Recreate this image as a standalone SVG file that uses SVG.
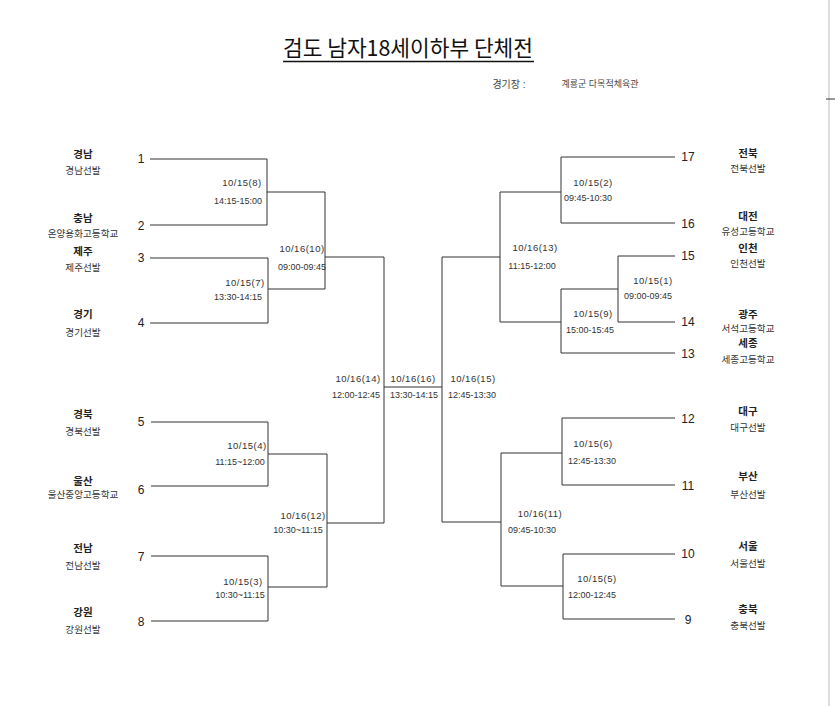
<svg xmlns="http://www.w3.org/2000/svg" width="835" height="706" viewBox="0 0 835 706">
<style>
text{font-family:"Liberation Sans","Noto Sans CJK KR",sans-serif;fill:#2a2a2a;dominant-baseline:central;text-anchor:middle}
.t{font-family:"Noto Sans CJK KR",sans-serif;font-size:22px;fill:#111;dominant-baseline:auto}
.v{font-size:10px;fill:#444}
.n{font-size:12px;fill:#222}
.p{font-family:"Noto Sans CJK KR",sans-serif;font-size:10.5px;font-weight:bold;fill:#222}
.s{font-family:"Noto Sans CJK KR",sans-serif;font-size:9.6px;fill:#333}
.d{font-size:9.5px;letter-spacing:0.5px;fill:#333}
.h{font-size:9px;fill:#333}
.ln{fill:none;stroke:#333;stroke-width:1}
</style>
<rect width="835" height="706" fill="#fff"/>
<g id="header">
<text class="t" x="408" y="56" textLength="250" lengthAdjust="spacingAndGlyphs">검도 남자18세이하부 단체전</text>
<line x1="283" y1="61.5" x2="534" y2="61.5" stroke="#111" stroke-width="1.5"/>
<text class="v" x="509" y="84">경기장 :</text>
<text class="v" x="600" y="84" font-size="9px" style="font-size:9px">계룡군 다목적체육관</text>
<line x1="829" y1="0" x2="829" y2="706" stroke="#bbb" stroke-width="1"/>
<line x1="826" y1="99" x2="835" y2="99" stroke="#333" stroke-width="1"/>
</g>
<g id="connectors" class="ln">
<path d="M150 159H267V225H150M267 192H325M150 258H268V323H150M268 289H325M325 192V289M325 257H384"/>
<path d="M151 422H268V486H151M268 454H327M151 556H268V621H151M268 587H327M327 454V587M327 523H384"/>
<path d="M384 257V523M384 387H442M442 257V522M442 257H500M442 522H501"/>
<path d="M500 192V322M500 192H561M500 322H561M675 157H561V223H675M675 353H561V289H618M675 256H618V322H675"/>
<path d="M501 453V586M501 453H562M501 586H563M675 418H562V485H675M675 554H563V619H675"/>
</g>
<g id="team-1"><text class="n" x="141" y="159">1</text><text class="p" x="83" y="153">경남</text><text class="s" x="83" y="170">경남선발</text></g>
<g id="team-2"><text class="n" x="141" y="226">2</text><text class="p" x="83" y="217">충남</text><text class="s" x="83" y="233">온양용화고등학교</text></g>
<g id="team-3"><text class="n" x="141" y="258">3</text><text class="p" x="83" y="250">제주</text><text class="s" x="83" y="267">제주선발</text></g>
<g id="team-4"><text class="n" x="141" y="323">4</text><text class="p" x="83" y="313">경기</text><text class="s" x="83" y="332">경기선발</text></g>
<g id="team-5"><text class="n" x="141" y="422">5</text><text class="p" x="83" y="413">경북</text><text class="s" x="83" y="431">경북선발</text></g>
<g id="team-6"><text class="n" x="141" y="490">6</text><text class="p" x="83" y="480">울산</text><text class="s" x="83" y="494">울산중앙고등학교</text></g>
<g id="team-7"><text class="n" x="141" y="557">7</text><text class="p" x="83" y="547">전남</text><text class="s" x="83" y="565">전남선발</text></g>
<g id="team-8"><text class="n" x="141" y="622">8</text><text class="p" x="83" y="611">강원</text><text class="s" x="83" y="629">강원선발</text></g>
<g id="team-17"><text class="n" x="688" y="157">17</text><text class="p" x="748" y="152">전북</text><text class="s" x="748" y="168">전북선발</text></g>
<g id="team-16"><text class="n" x="688" y="224">16</text><text class="p" x="748" y="215">대전</text><text class="s" x="748" y="231">유성고등학교</text></g>
<g id="team-15"><text class="n" x="688" y="256">15</text><text class="p" x="748" y="247">인천</text><text class="s" x="748" y="263">인천선발</text></g>
<g id="team-14"><text class="n" x="688" y="322">14</text><text class="p" x="748" y="313">광주</text><text class="s" x="748" y="328">서석고등학교</text></g>
<g id="team-13"><text class="n" x="688" y="354">13</text><text class="p" x="748" y="342">세종</text><text class="s" x="748" y="359">세종고등학교</text></g>
<g id="team-12"><text class="n" x="688" y="419">12</text><text class="p" x="748" y="410">대구</text><text class="s" x="748" y="427">대구선발</text></g>
<g id="team-11"><text class="n" x="688" y="486">11</text><text class="p" x="748" y="475">부산</text><text class="s" x="748" y="494">부산선발</text></g>
<g id="team-10"><text class="n" x="688" y="554">10</text><text class="p" x="748" y="545">서울</text><text class="s" x="748" y="563">서울선발</text></g>
<g id="team-9"><text class="n" x="688" y="620">9</text><text class="p" x="748" y="608">충북</text><text class="s" x="748" y="625">충북선발</text></g>
<g id="match-8"><text class="d" x="242" y="182">10/15(8)</text><text class="h" x="238" y="201">14:15-15:00</text></g>
<g id="match-7"><text class="d" x="245" y="282">10/15(7)</text><text class="h" x="238" y="297">13:30-14:15</text></g>
<g id="match-10"><text class="d" x="302" y="248">10/16(10)</text><text class="h" x="302" y="267">09:00-09:45</text></g>
<g id="match-4"><text class="d" x="247" y="445">10/15(4)</text><text class="h" x="240" y="462">11:15~12:00</text></g>
<g id="match-3"><text class="d" x="243" y="581">10/15(3)</text><text class="h" x="240" y="595">10:30~11:15</text></g>
<g id="match-12"><text class="d" x="303" y="515">10/16(12)</text><text class="h" x="298" y="530">10:30~11:15</text></g>
<g id="match-14"><text class="d" x="358" y="378">10/16(14)</text><text class="h" x="356" y="395">12:00-12:45</text></g>
<g id="match-16"><text class="d" x="413" y="378">10/16(16)</text><text class="h" x="414" y="395">13:30-14:15</text></g>
<g id="match-15"><text class="d" x="473" y="378">10/16(15)</text><text class="h" x="472" y="395">12:45-13:30</text></g>
<g id="match-2"><text class="d" x="593" y="182">10/15(2)</text><text class="h" x="588" y="198">09:45-10:30</text></g>
<g id="match-13"><text class="d" x="535" y="247">10/16(13)</text><text class="h" x="532" y="266">11:15-12:00</text></g>
<g id="match-1"><text class="d" x="653" y="280">10/15(1)</text><text class="h" x="648" y="296">09:00-09:45</text></g>
<g id="match-9"><text class="d" x="593" y="313">10/15(9)</text><text class="h" x="590" y="330">15:00-15:45</text></g>
<g id="match-6"><text class="d" x="593" y="443">10/15(6)</text><text class="h" x="592" y="461">12:45-13:30</text></g>
<g id="match-11"><text class="d" x="540" y="513">10/16(11)</text><text class="h" x="532" y="530">09:45-10:30</text></g>
<g id="match-5"><text class="d" x="597" y="578">10/15(5)</text><text class="h" x="592" y="595">12:00-12:45</text></g>
</svg>
